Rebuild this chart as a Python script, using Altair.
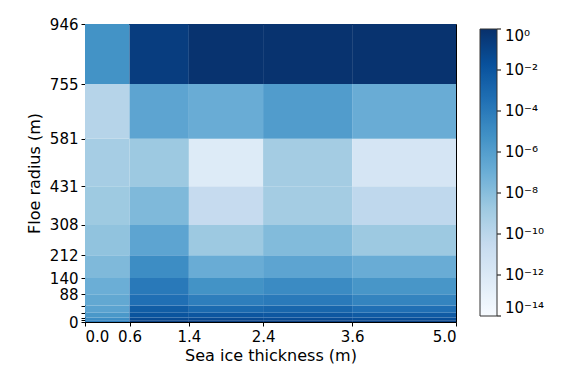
import altair as alt
import pandas as pd

# Bin edges
thickness_edges = [0.0, 0.6, 1.4, 2.4, 3.6, 5.0]
radius_edges = [0.0665, 5.31, 14.29, 29.06, 52.41, 87.87, 139.52, 211.64,
                308.04, 431.20, 581.28, 755.14, 945.81]

# log10(area fraction), rows from smallest floe radius bin to largest,
# columns = thickness categories
log10_area_fraction = [
    [-4.1, -0.8, -0.7, -0.7, -0.9],
    [-5.0, -1.4, -1.4, -1.5, -1.6],
    [-5.6, -1.9, -2.0, -2.1, -2.3],
    [-6.3, -2.4, -3.1, -2.9, -3.4],
    [-6.6, -3.4, -4.2, -4.0, -4.5],
    [-7.0, -3.9, -5.3, -4.9, -5.5],
    [-7.7, -5.0, -6.9, -6.4, -6.9],
    [-8.3, -6.4, -8.7, -7.8, -8.7],
    [-8.75, -7.7, -10.5, -9.0, -10.2],
    [-9.1, -8.7, -12.2, -9.0, -11.6],
    [-9.8, -6.4, -6.9, -5.9, -6.9],
    [-5.3, -0.7, -0.15, -0.15, -0.15],
]

x_ticks = thickness_edges
y_ticks = radius_edges
legend_ticks = [1e-14, 1e-12, 1e-10, 1e-8, 1e-6, 1e-4, 1e-2, 1.0]

blues = ["#f7fbff", "#deebf7", "#c6dbef", "#9ecae1", "#6baed6",
         "#4292c6", "#2171b5", "#08519c", "#08306b"]
color_domain = [10 ** (-14 + 14 * k / 8) for k in range(9)]

rows = []
for i in range(len(radius_edges) - 1):
    for j in range(len(thickness_edges) - 1):
        rows.append({
            "x0": thickness_edges[j], "x1": thickness_edges[j + 1],
            "y0": radius_edges[i], "y1": radius_edges[i + 1],
            "frac": 10 ** log10_area_fraction[i][j],
        })
df = pd.DataFrame(rows)

FONT = "DejaVu Sans"
FS = 15
TFS = 16

sup_labels = "['10⁰','10⁻¹','10⁻²','10⁻³','10⁻⁴','10⁻⁵','10⁻⁶','10⁻⁷','10⁻⁸','10⁻⁹','10⁻¹⁰','10⁻¹¹','10⁻¹²','10⁻¹³','10⁻¹⁴']"

heat = alt.Chart(df).mark_rect(stroke=None).encode(
    x=alt.X("x0:Q", scale=alt.Scale(domain=[0, 5], nice=False, zero=False),
            axis=alt.Axis(values=x_ticks, format=".1f", title="Sea ice thickness (m)",
                          labelOverlap=False)),
    x2="x1:Q",
    y=alt.Y("y0:Q", scale=alt.Scale(domain=[0.0665, 945.81], nice=False, zero=False),
            axis=alt.Axis(values=y_ticks, title="Floe radius (m)", labelOverlap=False,
                          labelExpr="(datum.value > 1 && datum.value < 60) ? '' : format(datum.value, '.0f')")),
    y2="y1:Q",
    color=alt.Color("frac:Q",
                    scale=alt.Scale(type="log", domain=color_domain, range=blues,
                                    interpolate="rgb"),
                    legend=alt.Legend(values=legend_ticks, title=None, orient="none",
                                      legendX=395, legendY=5, direction="vertical",
                                      gradientLength=287, gradientThickness=17,
                                      gradientStrokeColor="#333333", gradientStrokeWidth=1,
                                      labelFontSize=FS, labelFont=FONT, labelColor="black",
                                      labelOffset=8,
                                      labelExpr=sup_labels + "[round(-log(datum.value)/LN10)]")),
)

cbar_ticks = alt.Chart(pd.DataFrame({"v": legend_ticks})).mark_rule(
    color="black", strokeWidth=1
).encode(
    y=alt.Y("v:Q", scale=alt.Scale(type="log", domain=[1e-14, 1], range=[292, 5]), axis=None),
    x=alt.value(412), x2=alt.value(416),
)

label = alt.Chart(pd.DataFrame({"t": ["Area fraction"]})).mark_text(
    angle=270, font=FONT, fontSize=TFS, color="black", baseline="middle", align="center"
).encode(text="t:N", x=alt.value(480), y=alt.value(148))

chart = alt.layer(heat, cbar_ticks, label).resolve_scale(y="independent").properties(
    width=371, height=298,
    autosize=alt.AutoSizeParams(type="none"),
    padding={"left": 77, "top": 16, "right": 98, "bottom": 43},
    background="white",
).configure_view(
    stroke="black", strokeWidth=1
).configure_axis(
    grid=False, domainColor="black", tickColor="black", labelColor="black",
    titleColor="black", labelFont=FONT, titleFont=FONT, labelFontSize=FS,
    titleFontSize=TFS, titleFontWeight="normal", tickSize=4, labelPadding=3,
    domainWidth=1, tickWidth=1,
).configure_axisX(titlePadding=3).configure_axisY(titlePadding=7)

chart.save("out.html", embed_options={"renderer": "svg", "actions": False})
